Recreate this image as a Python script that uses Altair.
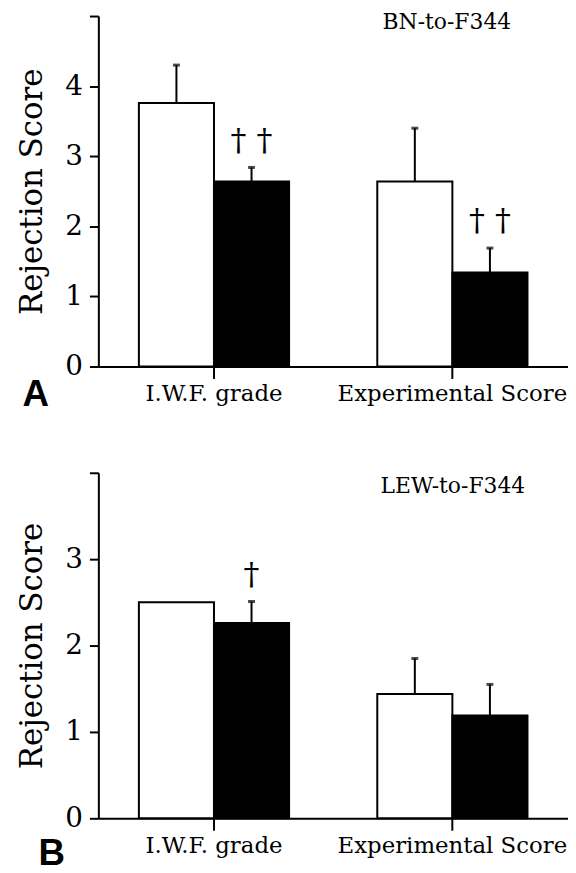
import altair as alt
import pandas as pd

categories = ["I.W.F. grade", "Experimental Score"]
groups = ["Open", "Filled"]

a_means = [3.76, 2.64, 2.64, 1.34]
a_errs = [0.54, 0.20, 0.76, 0.35]
a_marks = ["", "† †", "", "† †"]

b_means = [2.50, 2.26, 1.44, 1.19]
b_errs = [0.0, 0.25, 0.41, 0.36]
b_marks = ["", "†", "", ""]

SERIF = "DejaVu Serif"
SANS = "Liberation Sans"
W = 473


def panel(means, errs, marks, title, letter, ymax, height, title_x, title_y, letter_x, letter_y):
    rows = []
    i = 0
    for c in categories:
        for g in groups:
            rows.append({"category": c, "group": g, "mean": means[i],
                         "err": errs[i], "top": means[i] + errs[i], "sig": marks[i]})
            i += 1
    df = pd.DataFrame(rows)

    x = alt.X("category:N", sort=categories,
              scale=alt.Scale(paddingInner=0.37, paddingOuter=0.17),
              axis=alt.Axis(title=None, labelAngle=0, labelFont=SERIF, labelFontSize=23,
                            labelColor="black", labelPadding=4, labelLimit=0, tickSize=12,
                            tickWidth=2, tickColor="black", domainColor="black",
                            domainWidth=2))
    xo = alt.XOffset("group:N", sort=groups, scale=alt.Scale(paddingInner=0, paddingOuter=0))
    yscale = alt.Scale(domain=[0, ymax], nice=False)
    yaxis = alt.Axis(title="Rejection Score", values=list(range(ymax + 1)),
                     labelExpr=f"datum.value == {ymax} ? '' : datum.label",
                     grid=False, tickSize=9, tickWidth=2, tickColor="black",
                     domainColor="black", domainWidth=2, labelFont=SERIF,
                     labelFontSize=28, labelColor="black", labelPadding=7,
                     titleFont=SERIF, titleFontSize=31, titleFontWeight="normal",
                     titleColor="black", titlePadding=16)

    base = alt.Chart(df)
    bars = base.mark_bar(stroke="black", strokeWidth=2).encode(
        x=x, xOffset=xo,
        y=alt.Y("mean:Q", scale=yscale, axis=yaxis),
        fill=alt.Fill("group:N", scale=alt.Scale(domain=groups, range=["white", "black"]),
                      legend=None),
    )
    err_df = base.transform_filter("datum.err > 0")
    rules = err_df.mark_rule(color="black", strokeWidth=2).encode(
        x=x, xOffset=xo,
        y=alt.Y("mean:Q", scale=yscale, axis=yaxis),
        y2="top:Q",
    )
    caps = err_df.mark_tick(color="black", thickness=3, size=7).encode(
        x=x, xOffset=xo,
        y=alt.Y("top:Q", scale=yscale, axis=yaxis),
    )
    sig = base.mark_text(font=SERIF, fontSize=32, baseline="bottom", dy=-10,
                         color="black").encode(
        x=x, xOffset=xo,
        y=alt.Y("top:Q", scale=yscale, axis=yaxis),
        text="sig:N",
    )
    ttl = alt.Chart(pd.DataFrame({"t": [title]})).mark_text(
        font=SERIF, fontSize=22, baseline="alphabetic", align="center", color="black"
    ).encode(x=alt.value(title_x), y=alt.value(title_y), text="t:N")
    let = alt.Chart(pd.DataFrame({"t": [letter]})).mark_text(
        font=SANS, fontSize=37, fontWeight="bold", baseline="alphabetic", align="center",
        color="black"
    ).encode(x=alt.value(letter_x), y=alt.value(letter_y), text="t:N")
    return alt.layer(bars, rules, caps, sig, ttl, let).properties(width=W, height=height)


pa = panel(a_means, a_errs, a_marks, "BN-to-F344", "A", 5, 353, 351, 13, -63, 353 + 40)
pb = panel(b_means, b_errs, b_marks, "LEW-to-F344", "B", 4, 348, 357, 20, -47, 348 + 47)

chart = alt.vconcat(pa, pb, spacing=59).configure(
    background="white", padding={"left": 9, "top": 0, "right": 0, "bottom": 0}
).configure_view(stroke=None)

chart.save("out.html", embed_options={"renderer": "svg", "actions": False})
